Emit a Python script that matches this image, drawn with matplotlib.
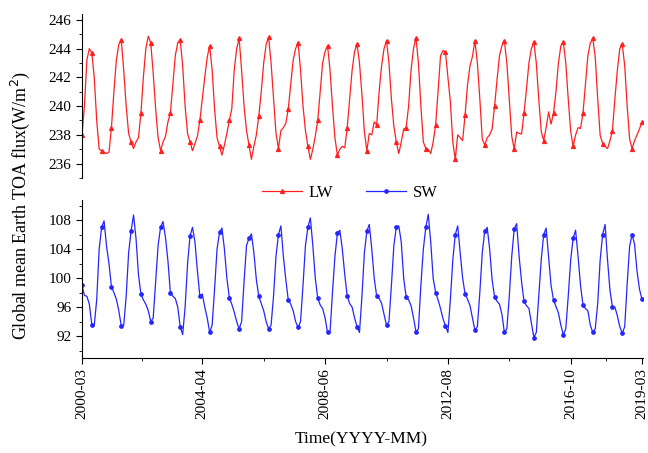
import numpy as np
import matplotlib.pyplot as plt
from matplotlib.ticker import MultipleLocator, FixedLocator

plt.rcParams['font.family'] = ['Liberation Serif', 'DejaVu Serif']

# monthly global means, 2000-03 ... 2019-03 (one row per year)
lw_flux = [
    238.0, 240.0, 243.2, 244.0, 243.7, 242.0, 239.0, 237.0, 236.9, 236.8,  # 2000 Mar-Dec
    236.7, 236.8, 238.5, 241.0, 243.2, 244.3, 244.6, 242.5, 240.0, 238.1, 237.5, 237.05,  # 2001
    237.5, 237.8, 239.5, 242.0, 244.0, 244.85, 244.4, 242.3, 239.8, 237.8, 236.9, 237.5,  # 2002
    237.9, 238.9, 239.5, 241.5, 243.5, 244.4, 244.6, 242.8, 240.0, 238.1, 237.5, 236.9,  # 2003
    237.4, 237.9, 239.0, 240.5, 242.0, 243.4, 244.2, 242.5, 239.8, 237.8, 237.2, 236.6,  # 2004
    237.3, 238.1, 239.0, 239.8, 242.5, 244.0, 244.7, 242.5, 240.0, 238.3, 237.3, 236.3,  # 2005
    237.2, 238.0, 239.3, 241.0, 243.0, 244.3, 244.8, 243.0, 240.5, 238.1, 237.05, 238.3,  # 2006
    238.5, 238.8, 239.8, 241.5, 243.2, 244.0, 244.4, 242.5, 240.0, 238.3, 237.2, 236.3,  # 2007
    237.0, 237.9, 239.0, 241.0, 243.0, 243.8, 244.2, 242.5, 240.0, 237.8, 236.6, 237.0,  # 2008
    237.2, 237.1, 238.5, 240.5, 242.5, 243.8, 244.3, 243.0, 240.8, 238.2, 236.9, 238.1,  # 2009
    238.0, 238.9, 238.7, 241.0, 242.8, 244.0, 244.55, 243.0, 240.5, 238.6, 237.5, 236.7,  # 2010
    237.5, 238.4, 238.5, 240.0, 242.5, 244.0, 244.74, 243.0, 240.0, 237.5, 237.05, 237.0,  # 2011
    236.7, 237.5, 238.7, 241.0, 243.5, 243.87, 243.75, 242.0, 240.3, 237.5, 236.3, 238.0,  # 2012
    237.8, 237.6, 239.4, 241.5, 242.8, 243.45, 244.55, 243.0, 240.5, 237.7, 237.3, 237.8,  # 2013
    238.0, 238.4, 240.0, 241.8, 243.5, 244.2, 244.55, 243.0, 240.5, 237.9, 237.0, 238.2,  # 2014
    238.1, 238.06, 239.5, 241.2, 243.0, 244.0, 244.44, 243.0, 240.5, 238.25, 237.6, 238.5,  # 2015
    239.6, 238.75, 239.5, 241.0, 243.0, 244.2, 244.44, 243.0, 240.5, 238.25, 237.2, 238.0,  # 2016
    238.5, 238.45, 239.5, 241.5, 243.5, 244.4, 244.7, 243.4, 240.5, 237.97, 237.4, 237.2,  # 2017
    237.05, 237.6, 238.3, 240.5, 242.5, 244.0, 244.3, 242.8, 240.0, 237.7, 237.05, 237.6,  # 2018
    238.0, 238.4, 238.9,  # 2019 Jan-Mar
]

sw_flux = [
    99.05, 97.6, 97.5, 96.4, 93.6, 93.5, 97.0, 104.0, 107.0, 107.9,  # 2000 Mar-Dec
    104.4, 102.0, 98.8, 98.0, 97.1, 95.5, 93.4, 93.5, 97.5, 103.5, 106.5, 108.7,  # 2001
    105.5, 100.5, 97.8, 97.0, 96.4, 95.5, 94.0, 94.5, 99.5, 104.5, 107.0, 107.8,  # 2002
    105.6, 102.4, 98.0, 97.5, 97.2, 96.0, 93.3, 92.2, 96.0, 102.0, 105.8, 107.0,  # 2003
    105.0, 101.0, 97.5, 97.8, 96.0, 94.5, 92.5, 93.5, 98.5, 104.0, 106.3, 106.9,  # 2004
    104.0, 100.0, 97.3, 96.4, 95.3, 94.0, 93.0, 94.0, 99.5, 104.5, 105.5, 106.1,  # 2005
    103.5, 99.8, 97.5, 96.5, 95.5, 94.0, 93.0, 93.5, 97.5, 103.0, 106.0, 107.2,  # 2006
    103.0, 99.8, 97.0, 96.4, 95.5, 94.0, 93.2, 94.0, 99.0, 104.5, 107.0, 108.3,  # 2007
    104.5, 100.0, 97.2, 96.3, 95.8, 94.5, 92.5, 92.5, 98.0, 103.0, 106.2, 106.6,  # 2008
    104.0, 100.5, 97.5, 96.5, 96.0, 94.5, 93.3, 92.5, 97.5, 103.5, 106.5, 107.4,  # 2009
    104.0, 100.0, 97.5, 97.2, 96.5, 95.0, 93.5, 94.0, 99.0, 104.5, 107.0, 107.2,  # 2010
    105.0, 100.0, 97.4, 97.0, 96.2, 94.5, 92.6, 93.0, 99.0, 104.0, 107.0, 108.8,  # 2011
    105.0, 100.0, 98.0, 97.0, 95.8, 94.4, 93.4, 92.5, 97.0, 102.5, 106.0, 107.2,  # 2012
    103.5, 100.0, 97.8, 97.1, 96.2, 94.5, 92.8, 93.3, 98.0, 103.5, 106.5, 107.0,  # 2013
    104.0, 99.8, 97.4, 96.8, 96.4, 95.0, 92.5, 93.0, 97.5, 103.0, 106.8, 107.5,  # 2014
    103.0, 99.5, 96.8, 96.2, 95.8, 93.8, 91.8, 92.5, 97.5, 102.5, 106.0, 106.9,  # 2015
    103.0, 99.0, 97.0, 96.1, 95.2, 93.5, 92.2, 93.0, 97.5, 102.5, 105.5, 106.6,  # 2016
    103.0, 99.0, 96.3, 95.8, 95.5, 93.5, 92.5, 93.0, 96.5, 102.5, 106.0, 107.4,  # 2017
    102.5, 98.3, 96.0, 96.0, 94.8, 93.3, 92.4, 93.3, 99.2, 104.4, 106.0, 104.7,  # 2018
    101.0, 98.5, 97.1,  # 2019 Jan-Mar
]

tick_labels = ['2000-03', '2004-04', '2008-06', '2012-08', '2016-10', '2019-03']


def month_index(label):
    y, m = label.split('-')
    return (int(y) - 2000) * 12 + int(m) - 3


x = np.arange(len(lw_flux))
ticks = [month_index(t) for t in tick_labels]
minor = [(a + b) / 2 for a, b in zip(ticks[:-1], ticks[1:])]

fig = plt.figure(figsize=(6.48, 4.53), dpi=100)
ax1 = fig.add_axes([0.1265, 0.607, 0.866, 0.362])
ax2 = fig.add_axes([0.1265, 0.21, 0.866, 0.349], sharex=ax1)

l1, = ax1.plot(x, lw_flux, color='#ff2020', lw=0.9, marker='^', ms=2.8,
               markevery=4, label='LW')
l2, = ax2.plot(x, sw_flux, color='#2525ff', lw=0.9, marker='o', ms=2.4,
               markevery=4, label='SW')

ax1.set_ylim(235, 246.4)
ax1.yaxis.set_major_locator(MultipleLocator(2))
ax1.yaxis.set_minor_locator(MultipleLocator(1))
ax2.set_ylim(89, 110.8)
ax2.yaxis.set_major_locator(MultipleLocator(4))
ax2.yaxis.set_minor_locator(MultipleLocator(2))

ax2.set_xlim(0, 228.5)
ax2.xaxis.set_major_locator(FixedLocator(ticks))
ax2.xaxis.set_minor_locator(FixedLocator(minor))
ax2.set_xticklabels(tick_labels, rotation=90)

for ax in (ax1, ax2):
    ax.spines['top'].set_visible(False)
    ax.spines['right'].set_visible(False)
    ax.tick_params(which='major', direction='out', length=4, labelsize=11)
    ax.tick_params(which='minor', direction='out', length=2)
ax1.spines['bottom'].set_visible(False)
ax1.tick_params(axis='x', which='both', bottom=False, labelbottom=False)

fig.legend(handles=[l1, l2], loc='center', bbox_to_anchor=(0.54, 0.574),
           ncol=2, frameon=False, fontsize=12, handlelength=2.4,
           columnspacing=2.0, handletextpad=0.4)

fig.text(0.031, 0.547, 'Global mean Earth TOA flux(W/m$^2$)', rotation=90,
         ha='center', va='center', fontsize=13)
fig.text(0.557, 0.03, 'Time(YYYY-MM)', ha='center', va='center', fontsize=12.5)

fig.savefig('out.png', dpi=100)
